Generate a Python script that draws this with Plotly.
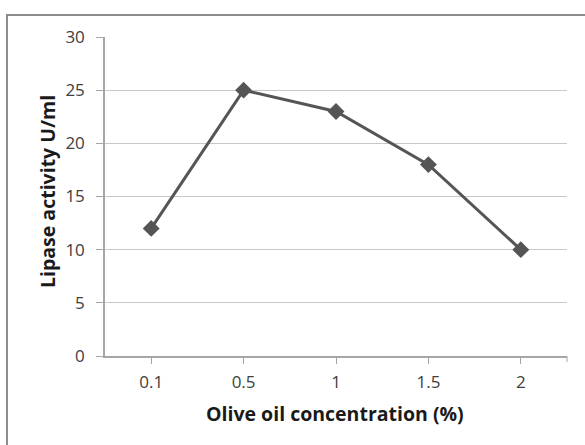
import plotly.graph_objects as go

categories = ["0.1", "0.5", "1", "1.5", "2"]
activity = [12, 25, 23, 18, 10]
y_ticks = [0, 5, 10, 15, 20, 25, 30]

W, H = 585, 445
L, R, T, B = 105, 18, 37, 89
pw, ph = W - L - R, H - T - B

def px_x(px):
    return (px - L) / pw

def px_y(py):
    return (H - B - py) / ph

FONT = "Open Sans"
fig = go.Figure()
fig.add_trace(go.Scatter(
    x=categories, y=activity, mode="lines+markers",
    line=dict(color="#555555", width=3),
    marker=dict(symbol="diamond", size=13, color="#555555"),
    showlegend=False,
))

fig.update_layout(
    width=W, height=H,
    margin=dict(l=L, r=R, t=T, b=B),
    paper_bgcolor="white", plot_bgcolor="white",
    font=dict(family=FONT, size=18, color="#404040"),
    xaxis=dict(
        type="category", range=[-0.5, 4.5],
        showgrid=False, showline=True, linecolor="#a6a6a6", linewidth=1.5,
        ticks="outside", ticklen=6, tickcolor="#a6a6a6", tickwidth=1,
        tickfont=dict(family=FONT, size=17, color="#404040"),
        ticklabelstandoff=4,
        zeroline=False,
    ),
    yaxis=dict(
        range=[0, 30], tickvals=y_ticks,
        showgrid=True, gridcolor="#c8c8c8", gridwidth=1,
        showline=True, linecolor="#a6a6a6", linewidth=1.5,
        ticks="outside", ticklen=7, tickcolor="#a6a6a6", tickwidth=1,
        tickfont=dict(family=FONT, size=17, color="#404040"),
        ticklabelstandoff=8,
        zeroline=False,
    ),
    annotations=[
        dict(text="<b>Olive oil concentration (%)</b>", xref="paper", yref="paper",
             x=px_x(335), y=px_y(413), showarrow=False,
             font=dict(family=FONT, size=19.5, color="#1a1a1a"),
             xanchor="center", yanchor="middle"),
        dict(text="<b>Lipase activity U/ml</b>", xref="paper", yref="paper",
             x=px_x(47), y=px_y(192), showarrow=False, textangle=-90,
             font=dict(family=FONT, size=19.5, color="#1a1a1a"),
             xanchor="center", yanchor="middle"),
    ],
    shapes=[
        dict(type="rect", xref="paper", yref="paper",
             x0=px_x(7), x1=px_x(600), y0=px_y(15), y1=px_y(470),
             line=dict(color="#8c8c8c", width=2), fillcolor="rgba(0,0,0,0)"),
        dict(type="line", xref="paper", yref="paper",
             x0=1, x1=1, y0=0, y1=px_y(362),
             line=dict(color="#a6a6a6", width=1)),
    ],
)

fig.write_html("out.html")
